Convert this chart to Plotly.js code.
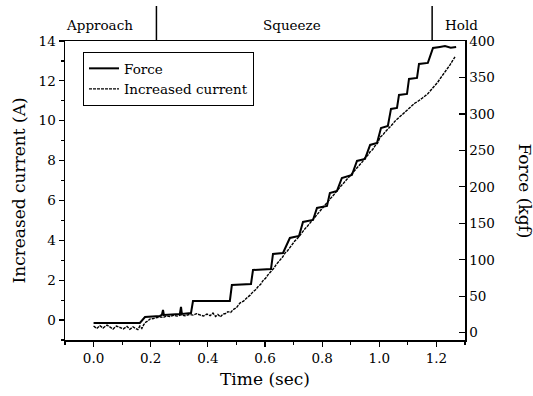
<!DOCTYPE html>
<html>
<head>
<meta charset="utf-8">
<script src="https://cdn.plot.ly/plotly-3.0.1.min.js"></script>
<style>html,body{margin:0;padding:0;background:#fff;}#chart{width:533px;height:396px;}</style>
</head>
<body>
<div id="chart"></div>
<script>
// Force (kgf) — staircase trace on right axis
const forceTime = [0.0,0.162,0.180,0.232,0.239,0.243,0.246,0.302,0.306,0.309,0.341,0.348,0.477,0.484,0.551,0.558,0.621,0.628,0.663,0.677,0.687,0.719,0.733,0.768,0.782,0.817,0.827,0.852,0.869,0.904,0.922,0.950,0.968,0.992,1.006,1.030,1.041,1.062,1.069,1.097,1.104,1.132,1.139,1.170,1.188,1.212,1.230,1.250,1.269];
const forceKgf  = [13.3,13.3,21.5,22.9,24.3,31.1,24.3,25.7,35.3,25.7,27.0,43.5,43.5,65.4,66.8,86.0,87.4,108.0,109.3,120.3,129.9,132.6,151.9,154.6,171.1,173.8,191.6,194.4,212.2,216.3,235.5,238.3,257.5,260.2,280.8,283.5,306.9,308.2,326.1,327.4,348.0,349.4,368.6,370.0,390.5,391.9,393.0,390.8,391.9];

// Increased current (A) — left axis
const currentTime = [0.0,0.011,0.022,0.033,0.047,0.058,0.068,0.080,0.092,0.104,0.117,0.127,0.138,0.148,0.155,0.162,0.169,0.176,0.183,0.190,0.197,0.210,0.222,0.232,0.243,0.255,0.267,0.280,0.292,0.305,0.320,0.335,0.348,0.360,0.372,0.385,0.397,0.408,0.418,0.427,0.435,0.444,0.453,0.462,0.470,0.480,0.488,0.500,0.512,0.525,0.537,0.548,0.558,0.567,0.576,0.585,0.593,0.602,0.611,0.618,0.625,0.632,0.639,0.646,0.653,0.661,0.670,0.679,0.688,0.697,0.705,0.714,0.723,0.731,0.740,0.749,0.758,0.766,0.775,0.784,0.793,0.801,0.810,0.819,0.828,0.836,0.845,0.854,0.863,0.871,0.880,0.889,0.898,0.907,0.916,0.924,0.933,0.942,0.950,0.959,0.968,0.977,0.985,0.994,1.003,1.012,1.020,1.029,1.037,1.046,1.055,1.064,1.073,1.081,1.090,1.099,1.107,1.116,1.125,1.134,1.143,1.151,1.160,1.169,1.178,1.186,1.195,1.204,1.212,1.221,1.230,1.239,1.247,1.256,1.265];
const currentAmp = [-0.30,-0.42,-0.28,-0.40,-0.25,-0.38,-0.45,-0.30,-0.36,-0.44,-0.32,-0.46,-0.34,-0.40,-0.48,-0.30,-0.42,-0.22,-0.10,-0.05,0.05,0.08,0.12,0.16,0.13,0.20,0.18,0.24,0.20,0.26,0.22,0.28,0.25,0.32,0.26,0.20,0.30,0.22,0.35,0.18,0.28,0.16,0.30,0.33,0.42,0.38,0.52,0.62,0.85,0.95,1.12,1.25,1.42,1.52,1.68,1.80,1.98,2.10,2.28,2.38,2.52,2.62,2.78,2.88,3.02,3.15,3.36,3.48,3.66,3.80,3.98,4.10,4.28,4.40,4.58,4.72,4.88,5.02,5.18,5.30,5.48,5.62,5.78,5.92,6.08,6.20,6.38,6.52,6.68,6.80,6.98,7.10,7.24,7.38,7.54,7.66,7.84,7.96,8.14,8.26,8.44,8.56,8.74,8.88,9.18,9.28,9.43,9.55,9.68,9.82,9.98,10.10,10.24,10.32,10.44,10.56,10.69,10.78,10.89,10.96,11.04,11.14,11.24,11.34,11.49,11.62,11.74,11.92,12.09,12.26,12.44,12.62,12.79,13.00,13.20];

// Phase labels and boundaries (sec)
const phaseLabels = ["Approach","Squeeze","Hold"];
const phaseLabelTime = [0.022,0.695,1.286];
const phaseBounds = [0.22,1.185];

const FONT = "DejaVu Serif, Liberation Serif, serif";

const traces = [
  {x: forceTime, y: forceKgf, name: "Force", yaxis: "y2", type: "scatter", mode: "lines",
   line: {color: "#000", width: 2}},
  {x: currentTime, y: currentAmp, name: "Increased current", yaxis: "y", type: "scatter", mode: "lines",
   line: {color: "#000", width: 1.4, dash: "3px,1px"}}
];

const shapes = phaseBounds.map(t => ({type: "line", xref: "x", yref: "paper", x0: t, x1: t, y0: 1, y1: 1.117,
  line: {color: "#000", width: 1.5}}));

const annotations = phaseLabels.map((s, i) => ({text: s, x: phaseLabelTime[i], xref: "x", y: 1.053, yref: "paper",
  showarrow: false, xanchor: "center", yanchor: "middle", font: {family: FONT, size: 13.5, color: "#000"}}));
annotations.push({text: "Force (kgf)", xref: "paper", yref: "paper", x: 1.15, y: 0.5, textangle: 90,
  showarrow: false, xanchor: "center", yanchor: "middle", font: {family: FONT, size: 17, color: "#000"}});

const layout = {
  width: 533, height: 396,
  margin: {l: 65, r: 68, t: 41, b: 56, pad: 0},
  paper_bgcolor: "#fff", plot_bgcolor: "#fff",
  font: {family: FONT, color: "#000", size: 13.5},
  showlegend: true,
  legend: {x: 0.045, y: 0.963, xanchor: "left", yanchor: "top", bordercolor: "#000", borderwidth: 1,
    bgcolor: "#fff", font: {family: FONT, size: 13.5, color: "#000"}, tracegroupgap: 0},
  xaxis: {range: [-0.1, 1.3], tick0: 0, dtick: 0.2, tickformat: ".1f", ticks: "outside", ticklen: 5,
    tickcolor: "#000", tickwidth: 1.2, showline: true, linecolor: "#000", linewidth: 1.5, mirror: true,
    showgrid: false, zeroline: false,
    minor: {dtick: 0.1, tick0: 0, ticks: "outside", ticklen: 3, tickcolor: "#000", showgrid: false},
    title: {text: "Time (sec)", font: {family: FONT, size: 17, color: "#000"}, standoff: 8}},
  yaxis: {range: [-1, 14], tick0: 0, dtick: 2, ticks: "outside", ticklen: 5, tickcolor: "#000", tickwidth: 1.2,
    showline: true, linecolor: "#000", linewidth: 1.5, showgrid: false, zeroline: false,
    minor: {dtick: 1, tick0: 0, ticks: "outside", ticklen: 3, tickcolor: "#000", showgrid: false},
    title: {text: "Increased current (A)", font: {family: FONT, size: 17, color: "#000"}, standoff: 8}},
  yaxis2: {range: [-10, 400], tick0: 0, dtick: 50, overlaying: "y", side: "right", ticks: "inside", ticklen: 6,
    tickcolor: "#000", tickwidth: 1.2, showline: true, linecolor: "#000", linewidth: 1.5,
    showgrid: false, zeroline: false},
  shapes: shapes,
  annotations: annotations
};

Plotly.newPlot("chart", traces, layout, {staticPlot: true, displayModeBar: false});
</script>
</body>
</html>
